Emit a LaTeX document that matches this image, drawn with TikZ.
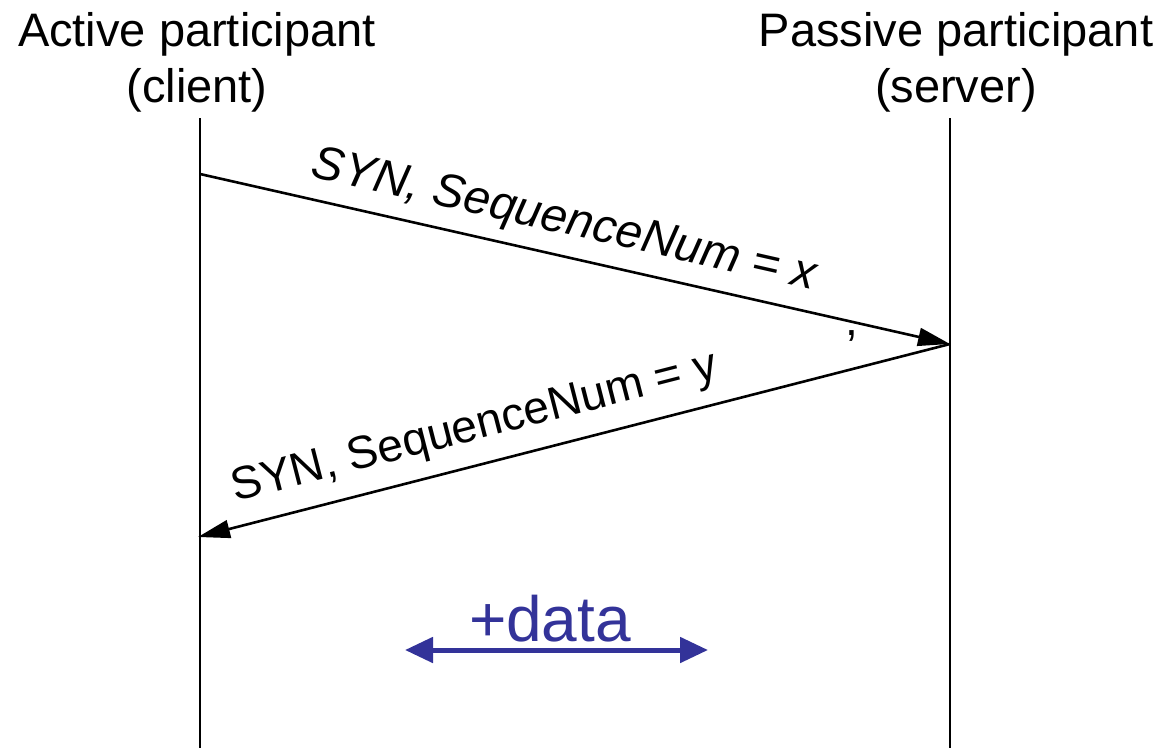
\documentclass[tikz,border=0pt]{standalone}
\usepackage{fontspec}
\setmainfont{Liberation Sans}
\usetikzlibrary{arrows.meta}
\definecolor{datablue}{HTML}{333399}
\tikzset{
  lifeline/.style={line width=2.6pt, black},
  msg/.style={line width=2.6pt, black, -{Triangle[length=32pt,width=18pt]}},
  header/.style={font=\fontsize{47}{56}\selectfont, align=center, inner sep=0pt},
  msglabel/.style={font=\fontsize{46}{52}\selectfont, inner sep=0pt},
  dataarrow/.style={line width=5pt, datablue, {Triangle[length=28pt,width=25pt]}-{Triangle[length=28pt,width=25pt]}},
}
\begin{document}
\begin{tikzpicture}[x=1pt,y=-1pt]
\useasboundingbox (0,0) rectangle (1171,748);
% headers
\node[header] (client) at (197,62) {Active participant\\(client)};
\node[header] (server) at (956,62) {Passive participant\\(server)};
% lifelines
\coordinate (ctop) at (200,118);
\coordinate (cbot) at (200,748);
\coordinate (stop) at (950,118);
\coordinate (sbot) at (950,748);
\draw[lifeline] (ctop) -- (cbot);
\draw[lifeline] (stop) -- (sbot);
% message points
\coordinate (m1s) at (200,174);
\coordinate (m1e) at (950,344);
\coordinate (m2e) at (198,537);
\draw[msg] (m1s) -- (m1e) node[pos=0.475, sloped, above=11pt, msglabel, font=\fontsize{47.5}{52}\selectfont] (l1) {\itshape SYN, SequenceNum = x};
\draw[msg] (m1e) -- (m2e) node[pos=0.62, sloped, above=14pt, msglabel] (l2) {SYN, SequenceNum = y};
\node[msglabel] (comma) at (852,336) {,};
% data
\coordinate (dl) at (405,650);
\coordinate (dr) at (708,650);
\draw[dataarrow] (dl) -- (dr);
\node[font=\fontsize{64}{70}\selectfont, text=datablue, inner sep=0pt, anchor=base] (data) at (550,641) {+data};
\end{tikzpicture}
\end{document}
